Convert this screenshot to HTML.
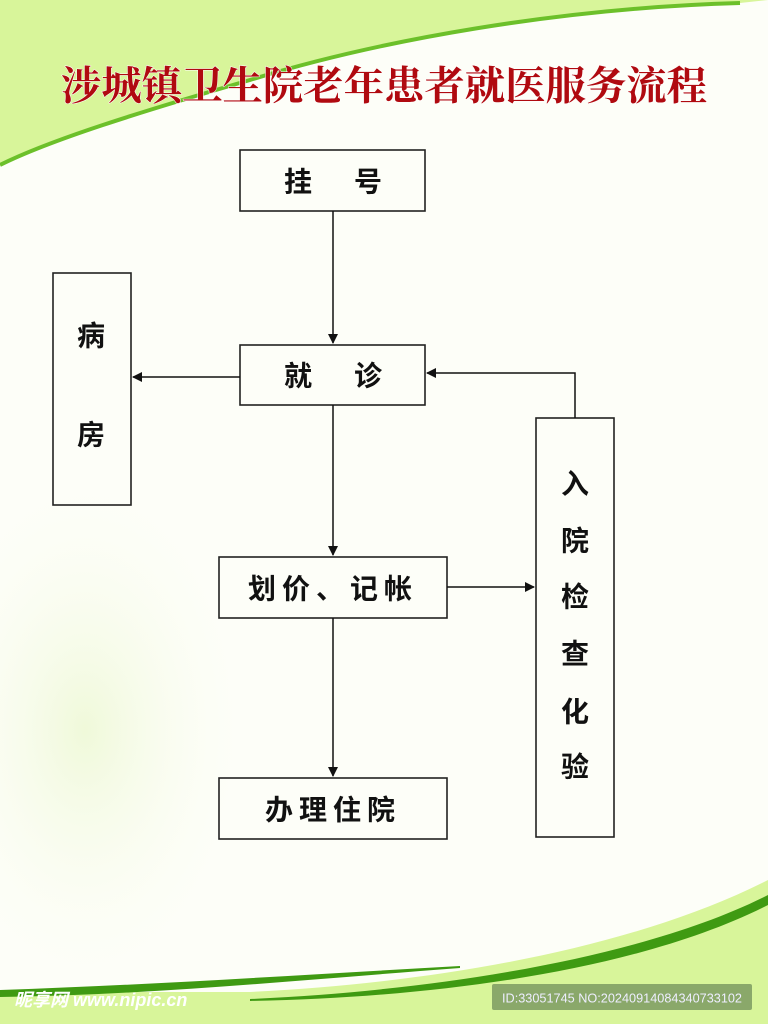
<!DOCTYPE html>
<html><head><meta charset="utf-8"><style>
html,body{margin:0;padding:0}
body{width:768px;height:1024px;overflow:hidden;background:#fdfef8}
svg{display:block}
.t{font-family:"Liberation Sans","Noto Sans CJK SC",sans-serif;font-size:28px;font-weight:bold;fill:#111;text-anchor:middle;dominant-baseline:central}
</style></head><body>
<svg width="768" height="1024" viewBox="0 0 768 1024" xmlns="http://www.w3.org/2000/svg">
<defs>
<radialGradient id="fl" cx="0.25" cy="0.5" r="0.5">
<stop offset="0" stop-color="#eef8d6" stop-opacity="0.9"/>
<stop offset="1" stop-color="#fdfef8" stop-opacity="0"/>
</radialGradient>
<marker id="a" markerWidth="10" markerHeight="10" refX="9" refY="5" orient="auto" markerUnits="userSpaceOnUse">
<path d="M0,0 L10,5 L0,10 z" fill="#111"/>
</marker>
</defs>
<rect width="768" height="1024" fill="#fdfef8"/>
<rect x="0" y="460" width="340" height="540" fill="url(#fl)"/>
<!-- top swoosh -->
<path d="M0,0 L768,0 L740,3 C560,8 380,40 250,80 C140,112 50,140 0,165 Z" fill="#d8f59a"/>
<path d="M0,165 C50,140 140,112 250,80 C380,40 560,8 740,3" fill="none" stroke="#6cc02a" stroke-width="4"/>
<!-- bottom swoosh -->
<path d="M0,1024 L0,992 L250,992 C450,982 640,945 768,880 L768,1024 Z" fill="#d8f59a"/>
<path d="M250,999 C450,990 650,955 768,895 L768,905 C650,965 460,997 250,1001 Z" fill="#3f9a12"/>
<path d="M0,990 C150,985 300,975 460,966 L460,968 C300,980 150,995 0,997 Z" fill="#3f9a12"/>
<rect x="492" y="984" width="260" height="26" rx="2" fill="#8aa86a"/>
<text x="622" y="998" font-family="Liberation Sans Narrow,Liberation Sans,sans-serif" font-size="13" fill="#eef" text-anchor="middle" dominant-baseline="central" textLength="240" lengthAdjust="spacingAndGlyphs">ID:33051745 NO:20240914084340733102</text>
<text x="14" y="1000" font-family="Liberation Sans,Noto Sans CJK SC,sans-serif" font-size="18" font-weight="bold" fill="#fff" font-style="italic" dominant-baseline="central">昵享网 www.nipic.cn</text>
<!-- title -->
<text x="384" y="86" font-family="Liberation Serif,Noto Serif CJK SC,serif" font-size="40" font-weight="bold" fill="#b00a10" text-anchor="middle" dominant-baseline="central" stroke="#fff" stroke-width="1" paint-order="stroke" textLength="646" lengthAdjust="spacingAndGlyphs">涉城镇卫生院老年患者就医服务流程</text>
<!-- boxes -->
<g fill="none" stroke="#222" stroke-width="1.6">
<rect x="240" y="150" width="185" height="61"/>
<rect x="240" y="345" width="185" height="60"/>
<rect x="53" y="273" width="78" height="232"/>
<rect x="219" y="557" width="228" height="61"/>
<rect x="219" y="778" width="228" height="61"/>
<rect x="536" y="418" width="78" height="419"/>
</g>
<g stroke="#111" stroke-width="1.5" fill="none">
<line x1="333" y1="211" x2="333" y2="343" marker-end="url(#a)"/>
<line x1="240" y1="377" x2="133" y2="377" marker-end="url(#a)"/>
<line x1="333" y1="405" x2="333" y2="555" marker-end="url(#a)"/>
<line x1="447" y1="587" x2="534" y2="587" marker-end="url(#a)"/>
<line x1="333" y1="618" x2="333" y2="776" marker-end="url(#a)"/>
<polyline points="575,418 575,373 427,373" marker-end="url(#a)"/>
</g>
<text class="t" x="298" y="182">挂</text><text class="t" x="368" y="182">号</text>
<text class="t" x="298" y="376">就</text><text class="t" x="368" y="376">诊</text>
<text class="t" x="91" y="336">病</text><text class="t" x="91" y="435">房</text>
<text class="t" x="333" y="589" letter-spacing="6">划价、记帐</text>
<text class="t" x="333" y="810" letter-spacing="6">办理住院</text>
<text class="t" x="575" y="484">入</text><text class="t" x="575" y="541">院</text>
<text class="t" x="575" y="597">检</text><text class="t" x="575" y="654">查</text>
<text class="t" x="575" y="712">化</text><text class="t" x="575" y="767">验</text>
</svg>
</body></html>
